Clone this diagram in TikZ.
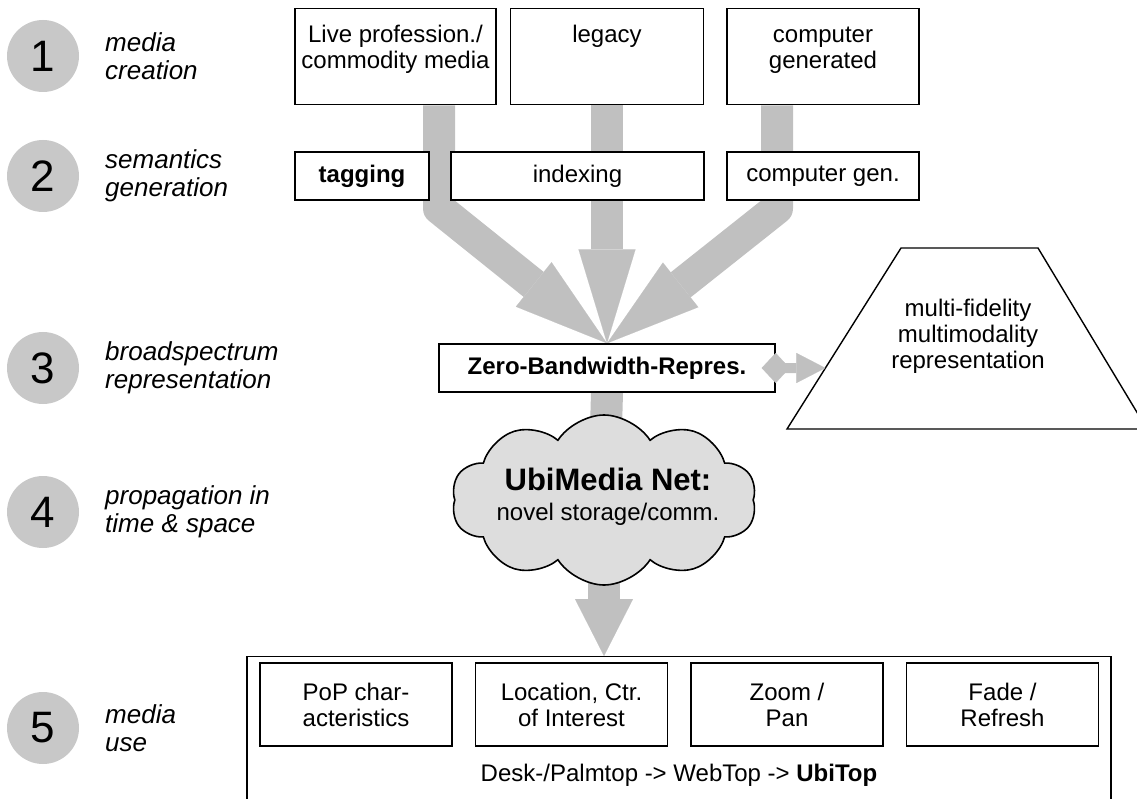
\documentclass[tikz,border=0pt]{standalone}
\usepackage{fontspec}
\setmainfont{Liberation Sans}
\usetikzlibrary{arrows.meta,shapes.symbols,backgrounds,calc,positioning}

\definecolor{flowgray}{RGB}{192,192,192}
\definecolor{phasegray}{RGB}{200,200,200}
\definecolor{cloudgray}{RGB}{221,221,221}

\newcommand\boxfont{\fontsize{24}{26}\selectfont}
% text hung from the top of a source box
\newcommand\srctext[1]{\parbox[t][64pt][t]{192pt}{\centering\rule{0pt}{18pt}#1}}

\tikzset{
  phase/.style={circle, fill=phasegray, minimum size=72pt, inner sep=0pt,
    font=\fontsize{44}{44}\selectfont},
  phasename/.style={anchor=west, align=left, inner sep=0pt,
    font=\fontsize{26}{28}\selectfont\itshape},
  box/.style={draw, line width=1.4pt, fill=white, inner sep=0pt, font=\boxfont},
  srcbox/.style={box, anchor=north, minimum height=96pt, inner ysep=16pt},
  tagbox/.style={box, align=center, minimum height=48pt},
  usebox/.style={box, align=center, minimum width=192pt, minimum height=83pt},
  flow/.style={line width=32pt, draw=flowgray, line join=round,
    -{Triangle[width=57pt,length=94pt,line width=0.1pt]}},
  flowdown/.style={line width=32pt, draw=flowgray,
    -{Triangle[width=58pt,length=57pt,line width=0.1pt]}},
  side/.style={line width=10pt, draw=flowgray, shorten <=-14pt,
    {Diamond[width=30pt,length=28pt,line width=0.1pt]}-{Triangle[width=30pt,length=29pt,line width=0.1pt]}},
}

\begin{document}
\begin{tikzpicture}[x=1pt, y=-1pt]
  \useasboundingbox (0,0) rectangle (1137,799);
  \clip (0,0) rectangle (1137,799);

  % the five phases down the left
  \foreach \n/\y/\name in {1/56/{media\\creation}, 2/176/{semantics\\generation},
      3/368/{broadspectrum\\representation}, 4/512/{propagation in\\time \& space},
      5/728/{media\\use}}
  {
    \node[phase] (p\n) at (43,\y) {\n};
    \node[phasename] (pn\n) at (105,\y) {\name};
  }

  % sources
  \node[srcbox, minimum width=201pt] (live) at (395.5,8) {\srctext{Live profession./\\commodity media}};
  \node[srcbox, minimum width=193pt] (legacy) at (607,8) {\srctext{legacy}};
  \node[srcbox, minimum width=192pt] (cgen) at (823,8) {\srctext{computer\\generated}};

  % semantics
  \node[tagbox, minimum width=134pt, font=\boxfont\bfseries] (tag) at (362,176) {tagging};
  \node[tagbox, minimum width=253pt] (index) at (577.5,176) {indexing};
  \node[tagbox, minimum width=192pt] (cgentag) at (823,176) {computer gen.};

  \node[tagbox, minimum width=336pt, font=\boxfont\bfseries] (zero) at (607,368) {Zero-Bandwidth-Repres.};

  % representation pyramid
  \coordinate (tbl) at (787,429);
  \coordinate (ttl) at (901,248);
  \coordinate (ttr) at (1038,248);
  \coordinate (tbr) at (1147,429);
  \draw[line width=1.4pt] (tbl) -- (ttl) -- (ttr) -- (tbr) -- cycle;
  \node[align=center, font=\boxfont] (fidelity) at (968,336)
    {multi-fidelity\\multimodality\\representation};
  \coordinate (tin) at ($(tbl)!0.337!(ttl)$);
  \draw[side] (zero.east) -- (tin);

  % network
  \node[cloud, cloud puffs=10, cloud puff arc=115, aspect=1.8, draw, line width=1.6pt,
    fill=cloudgray, minimum width=305pt, minimum height=170pt, inner sep=0pt] (net) at (604,500) {};
  \node[align=center, font=\fontsize{24}{30}\selectfont] (nettxt) at (608,497)
    {{\fontsize{31}{34}\selectfont\bfseries UbiMedia Net:}\\novel storage/comm.};

  % media use
  \node[draw, line width=1.4pt, minimum width=864pt, minimum height=170pt,
    anchor=north, inner sep=0pt] (ubi) at (679,656) {};
  \foreach \x/\name [count=\i] in {356/{PoP char-\\acteristics},
      571.5/{Location, Ctr.\\of Interest}, 787/{Zoom /\\Pan}, 1002.5/{Fade /\\Refresh}}
    \node[usebox] (use\i) at (\x,704.5) {\name};
  \node[font=\boxfont] (ubitop) at (679,775) {Desk-/Palmtop -> WebTop -> \textbf{UbiTop}};

  \begin{scope}[on background layer]
    \draw[flow] ([xshift=43.5pt]live.south) -- ++(0,103) -- (zero.north);
    \draw[flow] (legacy.south) -- (zero.north);
    \draw[flow] ([xshift=-46pt]cgen.south) -- ++(0,103) -- (zero.north);
    \draw[line width=32pt, draw=flowgray] (zero.south) -- (net.center);
    \draw[flowdown] (net.center) -- (net.center |- ubi.north);
  \end{scope}
\end{tikzpicture}
\end{document}
